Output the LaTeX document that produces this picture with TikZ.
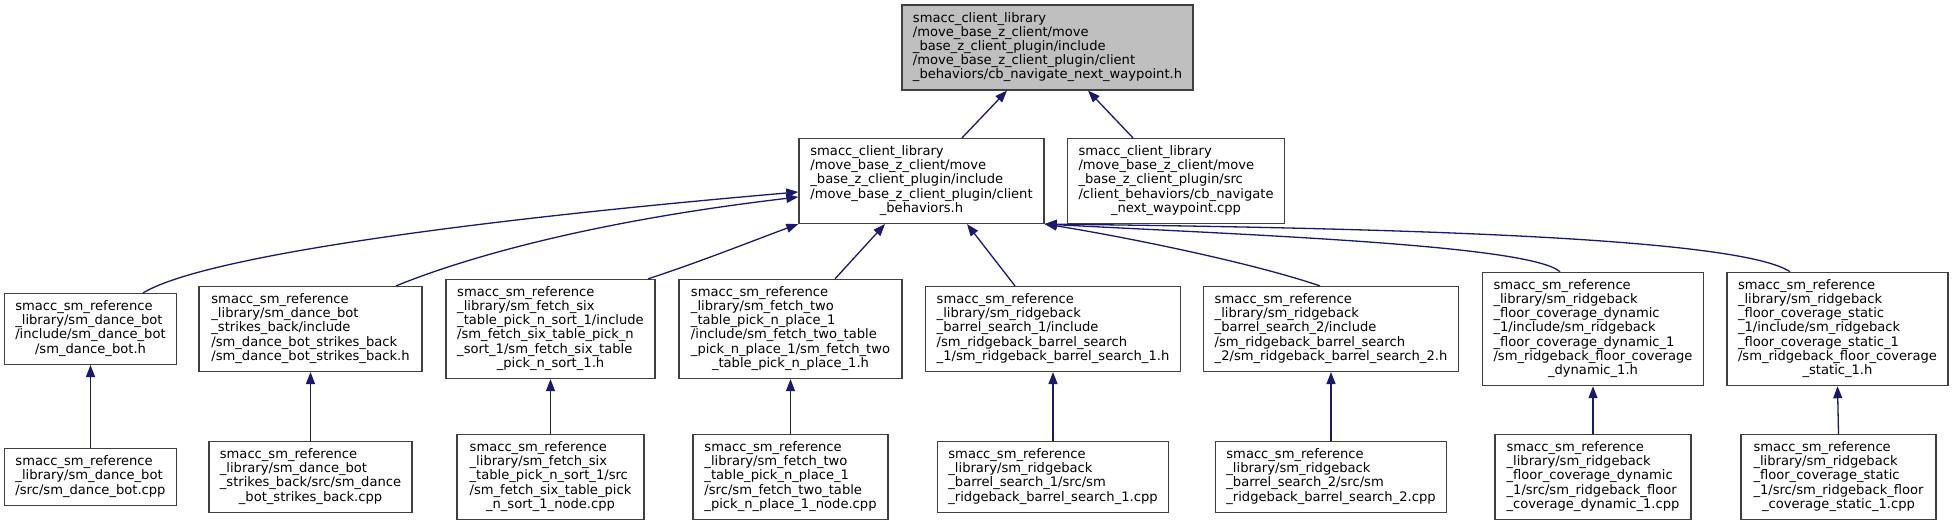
\documentclass[tikz,border=0pt]{standalone}
\usepackage{fontspec}
\setmainfont{DejaVu Sans}
\usetikzlibrary{arrows.meta}
\definecolor{edgeblue}{HTML}{191970}
\definecolor{boxline}{HTML}{404040}
\definecolor{topfill}{HTML}{BFBFBF}
\newcommand{\lastline}[1]{\multicolumn{1}{@{}c@{}}{#1}}
\newcommand{\ftxt}[1]{\begin{tabular}{@{}l@{}}#1\end{tabular}}
\begin{document}
\begin{tikzpicture}[x=1pt,y=1pt,
  file/.style={draw=boxline, line width=1.4pt, fill=white, inner xsep=11pt, inner ysep=7pt,
    font=\fontsize{13.1}{14}\selectfont},
  link/.style={draw=edgeblue, line width=1.3pt, -{Triangle[length=12pt,width=9pt]}}]
\useasboundingbox (0,0) rectangle (1953,525);

\node[file, fill=topfill, minimum width=291pt] (top) at (1047.5,477.5) {\ftxt{smacc\_client\_library\\/move\_base\_z\_client/move\\\_base\_z\_client\_plugin/include\\/move\_base\_z\_client\_plugin/client\\\lastline{\_behaviors/cb\_navigate\_next\_waypoint.h}}};

\node[file, minimum width=245pt] (A) at (921.5,344) {\ftxt{smacc\_client\_library\\/move\_base\_z\_client/move\\\_base\_z\_client\_plugin/include\\/move\_base\_z\_client\_plugin/client\\\lastline{\_behaviors.h}}};
\node[file, minimum width=216pt] (B) at (1176,344) {\ftxt{smacc\_client\_library\\/move\_base\_z\_client/move\\\_base\_z\_client\_plugin/src\\/client\_behaviors/cb\_navigate\\\lastline{\_next\_waypoint.cpp}}};

\node[file, minimum width=171pt] (r1) at (90.5,196) {\ftxt{smacc\_sm\_reference\\\_library/sm\_dance\_bot\\/include/sm\_dance\_bot\\\lastline{/sm\_dance\_bot.h}}};
\node[file, minimum width=223pt] (r2) at (310.5,196) {\ftxt{smacc\_sm\_reference\\\_library/sm\_dance\_bot\\\_strikes\_back/include\\/sm\_dance\_bot\_strikes\_back\\\lastline{/sm\_dance\_bot\_strikes\_back.h}}};
\node[file, minimum width=209pt] (r3) at (550.5,196) {\ftxt{smacc\_sm\_reference\\\_library/sm\_fetch\_six\\\_table\_pick\_n\_sort\_1/include\\/sm\_fetch\_six\_table\_pick\_n\\\_sort\_1/sm\_fetch\_six\_table\\\lastline{\_pick\_n\_sort\_1.h}}};
\node[file, minimum width=223pt] (r4) at (790.5,196) {\ftxt{smacc\_sm\_reference\\\_library/sm\_fetch\_two\\\_table\_pick\_n\_place\_1\\/include/sm\_fetch\_two\_table\\\_pick\_n\_place\_1/sm\_fetch\_two\\\lastline{\_table\_pick\_n\_place\_1.h}}};
\node[file, minimum width=254pt] (r5) at (1053,196) {\ftxt{smacc\_sm\_reference\\\_library/sm\_ridgeback\\\_barrel\_search\_1/include\\/sm\_ridgeback\_barrel\_search\\\lastline{\_1/sm\_ridgeback\_barrel\_search\_1.h}}};
\node[file, minimum width=254pt] (r6) at (1331,196) {\ftxt{smacc\_sm\_reference\\\_library/sm\_ridgeback\\\_barrel\_search\_2/include\\/sm\_ridgeback\_barrel\_search\\\lastline{\_2/sm\_ridgeback\_barrel\_search\_2.h}}};
\node[file, minimum width=220pt] (r7) at (1593,196) {\ftxt{smacc\_sm\_reference\\\_library/sm\_ridgeback\\\_floor\_coverage\_dynamic\\\_1/include/sm\_ridgeback\\\_floor\_coverage\_dynamic\_1\\/sm\_ridgeback\_floor\_coverage\\\lastline{\_dynamic\_1.h}}};
\node[file, minimum width=221pt] (r8) at (1837.5,196) {\ftxt{smacc\_sm\_reference\\\_library/sm\_ridgeback\\\_floor\_coverage\_static\\\_1/include/sm\_ridgeback\\\_floor\_coverage\_static\_1\\/sm\_ridgeback\_floor\_coverage\\\lastline{\_static\_1.h}}};

\node[file] (q1) at (90.5,48) {\ftxt{smacc\_sm\_reference\\\_library/sm\_dance\_bot\\\lastline{/src/sm\_dance\_bot.cpp}}};
\node[file] (q2) at (310.5,48) {\ftxt{smacc\_sm\_reference\\\_library/sm\_dance\_bot\\\_strikes\_back/src/sm\_dance\\\lastline{\_bot\_strikes\_back.cpp}}};
\node[file, minimum width=187pt] (q3) at (550.5,48) {\ftxt{smacc\_sm\_reference\\\_library/sm\_fetch\_six\\\_table\_pick\_n\_sort\_1/src\\/sm\_fetch\_six\_table\_pick\\\lastline{\_n\_sort\_1\_node.cpp}}};
\node[file, minimum width=195pt] (q4) at (790.5,48) {\ftxt{smacc\_sm\_reference\\\_library/sm\_fetch\_two\\\_table\_pick\_n\_place\_1\\/src/sm\_fetch\_two\_table\\\lastline{\_pick\_n\_place\_1\_node.cpp}}};
\node[file, minimum width=231pt] (q5) at (1053,48) {\ftxt{smacc\_sm\_reference\\\_library/sm\_ridgeback\\\_barrel\_search\_1/src/sm\\\lastline{\_ridgeback\_barrel\_search\_1.cpp}}};
\node[file, minimum width=230pt] (q6) at (1331,48) {\ftxt{smacc\_sm\_reference\\\_library/sm\_ridgeback\\\_barrel\_search\_2/src/sm\\\lastline{\_ridgeback\_barrel\_search\_2.cpp}}};
\node[file, minimum width=196pt] (q7) at (1593,48) {\ftxt{smacc\_sm\_reference\\\_library/sm\_ridgeback\\\_floor\_coverage\_dynamic\\\_1/src/sm\_ridgeback\_floor\\\lastline{\_coverage\_dynamic\_1.cpp}}};
\node[file, minimum width=195pt] (q8) at (1838.5,48) {\ftxt{smacc\_sm\_reference\\\_library/sm\_ridgeback\\\_floor\_coverage\_static\\\_1/src/sm\_ridgeback\_floor\\\lastline{\_coverage\_static\_1.cpp}}};

\draw[link] ([xshift=40.5pt]A.north) -- ([xshift=-40.5pt]top.south);
\draw[link] ([xshift=-43pt]B.north) -- ([xshift=40.5pt]top.south);
\draw[link] ([xshift=52.5pt]r1.north) .. controls (200,267) and (450,303) .. ([yshift=-11pt]A.west);
\draw[link] ([xshift=85.5pt]r2.north) .. controls (440,257) and (560,300) .. ([yshift=-16pt]A.west);
\draw[link] ([xshift=97.5pt]r3.north) .. controls (700,263) and (760,287) .. (A.south west);
\draw[link] ([xshift=44.5pt]r4.north) -- ([xshift=-36.5pt]A.south);
\draw[link] ([xshift=-38pt]r5.north) -- ([xshift=45.5pt]A.south);
\draw[link] ([xshift=-11pt]r6.north) .. controls (1250,263) and (1120,289) .. (A.south east);
\draw[link] ([xshift=-33pt]r7.north) .. controls (1530,280) and (1250,290) .. (A.south east);
\draw[link] ([xshift=-47.5pt]r8.north) .. controls (1740,287) and (1400,297) .. (A.south east);
\foreach \i in {1,...,8} \draw[link] (q\i.north) -- (r\i.south);
\end{tikzpicture}
\end{document}
